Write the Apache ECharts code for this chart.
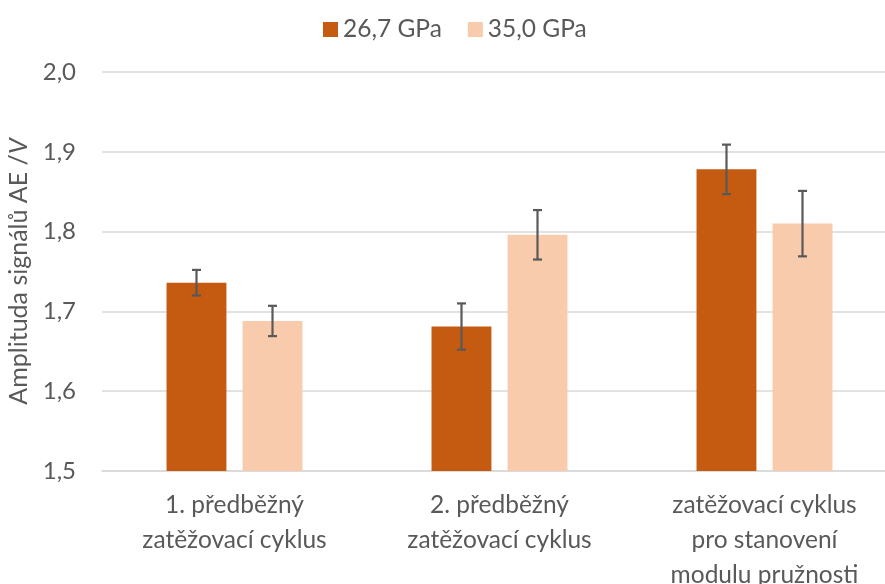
<!DOCTYPE html>
<html>
<head>
<meta charset="utf-8">
<script src="https://cdn.jsdelivr.net/npm/echarts@6/dist/echarts.min.js"></script>
<style>html,body{margin:0;padding:0;background:#fff}#c{width:885px;height:584px}</style>
</head>
<body>
<div id="c"></div>
<script>
const categories = ['1. předběžný\nzatěžovací cyklus', '2. předběžný\nzatěžovací cyklus', 'zatěžovací cyklus\npro stanovení\nmodulu pružnosti'];
const seriesNames = ['26,7 GPa', '35,0 GPa'];
const values267 = [1.736, 1.681, 1.878];
const values350 = [1.688, 1.796, 1.810];
const err267 = [0.016, 0.029, 0.031];
const err350 = [0.019, 0.031, 0.041];
const yTicks = { min: 1.5, max: 2.0, interval: 0.1 };

const FONT = 'Lato';
const TXT = '#595959';
const colors = ['#C55A11', '#F8CBAD'];
const chart = echarts.init(document.getElementById('c'), null, { renderer: 'canvas' });

function errSeries(vals, errs, side) {
  return {
    type: 'custom',
    silent: true,
    z: 10,
    data: vals.map((v, i) => [i, v, errs[i]]),
    renderItem: function (params, api) {
      const x = api.value(0);
      const v = api.value(1);
      const e = api.value(2);
      const catW = api.size([1, 0])[0];
      const off = side * catW * 0.1434;
      const top = api.coord([x, v + e]);
      const bot = api.coord([x, v - e]);
      const cx = top[0] + off;
      const cap = 4.5;
      const style = { stroke: '#595959', lineWidth: 2.2 };
      return {
        type: 'group',
        children: [
          { type: 'line', shape: { x1: cx, y1: top[1], x2: cx, y2: bot[1] }, style: style },
          { type: 'line', shape: { x1: cx - cap, y1: top[1], x2: cx + cap, y2: top[1] }, style: style },
          { type: 'line', shape: { x1: cx - cap, y1: bot[1], x2: cx + cap, y2: bot[1] }, style: style }
        ]
      };
    }
  };
}

chart.setOption({
  animation: false,
  backgroundColor: '#fff',
  textStyle: { fontFamily: FONT },
  legend: {
    data: seriesNames,
    left: 318,
    top: 12,
    itemWidth: 15,
    itemHeight: 15,
    itemGap: 26,
    icon: 'rect',
    textStyle: { fontFamily: FONT, fontSize: 24.5, color: TXT }
  },
  grid: { left: 102, top: 72, bottom: 113, width: 795, outerBoundsMode: 'none', containLabel: false },
  xAxis: {
    type: 'category',
    data: categories,
    axisTick: { show: false },
    axisLine: { lineStyle: { color: '#D9D9D9', width: 1.5 } },
    axisLabel: { fontFamily: FONT, fontSize: 24.5, color: TXT, lineHeight: 35, margin: 17, interval: 0 }
  },
  yAxis: {
    type: 'value',
    min: yTicks.min,
    max: yTicks.max,
    interval: yTicks.interval,
    name: '{n|Amplituda signálů AE /}{i|V}',
    nameLocation: 'middle',
    nameGap: 69,
    nameTextStyle: {
      rich: {
        n: { fontFamily: FONT, fontSize: 25, color: TXT },
        i: { fontFamily: FONT, fontSize: 25, color: TXT, fontStyle: 'italic' }
      }
    },
    axisLine: { show: false },
    axisTick: { show: false },
    splitLine: { lineStyle: { color: '#D9D9D9', width: 1.5 } },
    axisLabel: {
      fontFamily: FONT, fontSize: 24, color: TXT, margin: 26,
      formatter: v => v.toFixed(1).replace('.', ',')
    }
  },
  series: [
    { name: seriesNames[0], type: 'bar', data: values267, barWidth: '22.6%', barGap: '27%', itemStyle: { color: colors[0] } },
    { name: seriesNames[1], type: 'bar', data: values350, barWidth: '22.6%', barGap: '27%', itemStyle: { color: colors[1] } },
    errSeries(values267, err267, -1),
    errSeries(values350, err350, 1)
  ]
});
</script>
</body>
</html>
